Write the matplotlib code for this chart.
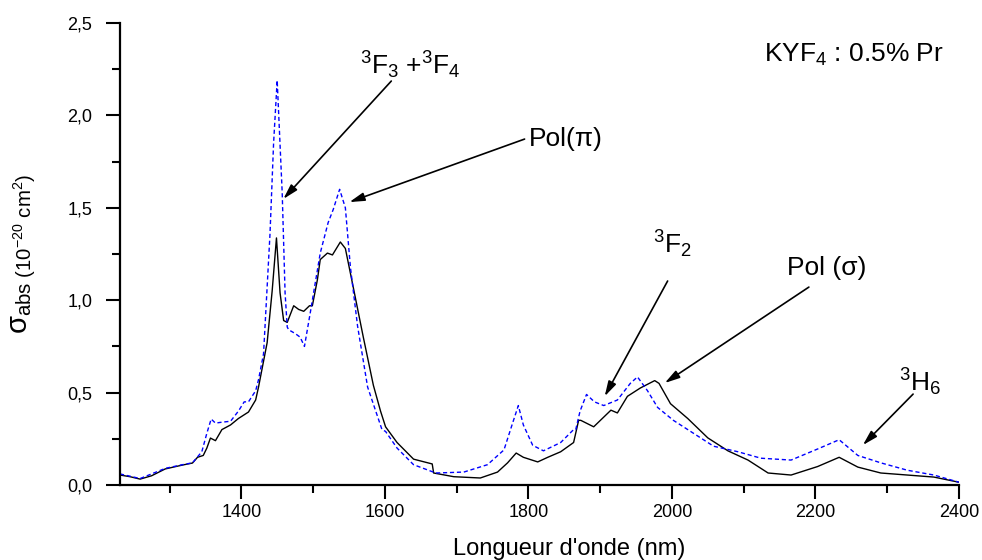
import numpy as np
import matplotlib
matplotlib.use("Agg")
import matplotlib.pyplot as plt
from matplotlib.ticker import MultipleLocator, FuncFormatter

plt.rcParams['font.family'] = ['Liberation Sans', 'DejaVu Sans']
plt.rcParams['mathtext.fontset'] = 'custom'
plt.rcParams['mathtext.rm'] = 'Liberation Sans'
plt.rcParams['mathtext.it'] = 'Liberation Sans:italic'
plt.rcParams['mathtext.default'] = 'regular'

# Absorption cross-section, KYF4:Pr, two polarisations
wl_sigma = [1231, 1245, 1259, 1275, 1294, 1318, 1332, 1339, 1347, 1352, 1357, 1364,
            1373, 1385, 1396, 1410, 1420, 1424, 1436, 1443, 1449, 1454, 1459, 1464,
            1473, 1480, 1487, 1495, 1499, 1506, 1510, 1520, 1527, 1538, 1545, 1556,
            1570, 1584, 1594, 1601, 1617, 1640, 1666, 1668, 1696, 1733, 1757, 1771,
            1783, 1793, 1813, 1827, 1845, 1863, 1870, 1873, 1891, 1903, 1915, 1924,
            1938, 1956, 1976, 1982, 1998, 2022, 2050, 2078, 2106, 2124, 2134, 2166,
            2203, 2233, 2259, 2291, 2328, 2365, 2400]
abs_sigma = [0.054, 0.045, 0.032, 0.05, 0.087, 0.108, 0.119, 0.15, 0.16, 0.20, 0.254, 0.24,
             0.30, 0.325, 0.36, 0.395, 0.46, 0.53, 0.77, 1.05, 1.337, 1.04, 0.89, 0.88,
             0.97, 0.95, 0.94, 0.97, 0.97, 1.11, 1.22, 1.255, 1.245, 1.315, 1.28, 1.07,
             0.80, 0.54, 0.40, 0.315, 0.23, 0.14, 0.114, 0.065, 0.045, 0.038, 0.07, 0.12,
             0.173, 0.15, 0.125, 0.15, 0.18, 0.23, 0.35, 0.35, 0.315, 0.36, 0.405, 0.39,
             0.48, 0.525, 0.565, 0.55, 0.44, 0.36, 0.255, 0.185, 0.135, 0.09, 0.065, 0.054,
             0.10, 0.15, 0.097, 0.065, 0.054, 0.043, 0.015]

wl_pi = [1231, 1259, 1294, 1318, 1332, 1345, 1352, 1358, 1364, 1373, 1385, 1396,
         1404, 1410, 1420, 1424, 1431, 1440, 1445, 1450, 1457, 1461, 1464, 1466,
         1475, 1482, 1488, 1496, 1510, 1521, 1528, 1537, 1545, 1552, 1562, 1576,
         1596, 1601, 1617, 1640, 1671, 1710, 1743, 1766, 1778, 1786, 1793, 1806,
         1821, 1845, 1863, 1866, 1872, 1881, 1892, 1905, 1924, 1942, 1952, 1966,
         1980, 2002, 2030, 2058, 2092, 2124, 2166, 2203, 2233, 2259, 2291, 2328,
         2365, 2400]
abs_pi = [0.06, 0.035, 0.09, 0.11, 0.12, 0.18, 0.28, 0.357, 0.335, 0.34, 0.345, 0.40,
          0.45, 0.45, 0.51, 0.57, 0.71, 1.36, 1.85, 2.19, 1.58, 1.04, 0.855, 0.84,
          0.82, 0.80, 0.75, 0.93, 1.255, 1.42, 1.49, 1.60, 1.50, 1.18, 0.86, 0.53,
          0.30, 0.29, 0.20, 0.11, 0.065, 0.07, 0.11, 0.19, 0.335, 0.43, 0.325, 0.215,
          0.185, 0.23, 0.30, 0.30, 0.40, 0.49, 0.45, 0.43, 0.46, 0.55, 0.585, 0.51,
          0.42, 0.35, 0.28, 0.21, 0.18, 0.145, 0.135, 0.195, 0.245, 0.16, 0.12, 0.08,
          0.054, 0.015]

fig = plt.figure(figsize=(9.82, 5.60), dpi=100)
ax = fig.add_axes([0.1222, 0.1339, 0.8544, 0.825])

ax.plot(wl_sigma, abs_sigma, color='black', lw=1.0)
ax.plot(wl_pi, abs_pi, color='#0000ff', lw=1.0, ls=(0, (3, 2)))

ax.set_xlim(1231, 2400)
ax.set_ylim(0, 2.5)

for s in ('top', 'right'):
    ax.spines[s].set_visible(False)
for s in ('left', 'bottom'):
    ax.spines[s].set_linewidth(1.6)

ax.xaxis.set_major_locator(MultipleLocator(200))
ax.xaxis.set_minor_locator(MultipleLocator(100))
ax.yaxis.set_major_locator(MultipleLocator(0.5))
ax.yaxis.set_minor_locator(MultipleLocator(0.25))
ax.yaxis.set_major_formatter(FuncFormatter(lambda v, p: f"{v:.1f}".replace('.', ',')))
ax.tick_params(which='major', direction='out', length=10, width=1.5, labelsize=13)
ax.tick_params(which='minor', direction='out', length=6, width=1.5)
ax.tick_params(axis='y', pad=10)
ax.tick_params(axis='x', pad=4)

ax.set_xlabel("Longueur d'onde (nm)", fontsize=17)
ax.xaxis.set_label_coords(0.535, -0.115)
ax.set_ylabel(r'$\mathrm{\sigma}_{\mathrm{abs\ (10^{-20}\ cm^{2})}}$', fontsize=21)
ax.yaxis.set_label_coords(-0.098, 0.5)

arrow = dict(arrowstyle='-|>,head_length=0.9,head_width=0.25', color='black',
             lw=1.2, shrinkA=0, shrinkB=0)
ax.annotate('', xy=(1458.6, 1.548), xytext=(1609, 2.186), arrowprops=arrow)
ax.annotate('', xy=(1550.6, 1.531), xytext=(1794.7, 1.872), arrowprops=arrow)
ax.annotate('', xy=(1906.3, 0.48), xytext=(1994, 1.104), arrowprops=arrow)
ax.annotate('', xy=(1990, 0.552), xytext=(2190.8, 1.071), arrowprops=arrow)
ax.annotate('', xy=(2266, 0.216), xytext=(2336, 0.492), arrowprops=arrow)

ax.text(1565, 2.27, r'$^{3}$F$_{3}$ +$^{3}$F$_{4}$', fontsize=19, va='center', ha='left')
ax.text(1800, 1.872, 'Pol(π)', fontsize=19, va='center', ha='left')
ax.text(1974, 1.30, r'$^{3}$F$_{2}$', fontsize=19, va='center', ha='left')
ax.text(2160, 1.174, 'Pol (σ)', fontsize=19, va='center', ha='left')
ax.text(2316, 0.557, r'$^{3}$H$_{6}$', fontsize=19, va='center', ha='left')
ax.text(2128, 2.327, r'KYF$_{4}$ : 0.5% Pr', fontsize=19, va='center', ha='left',
        clip_on=False)

fig.savefig('out.png', dpi=100)
